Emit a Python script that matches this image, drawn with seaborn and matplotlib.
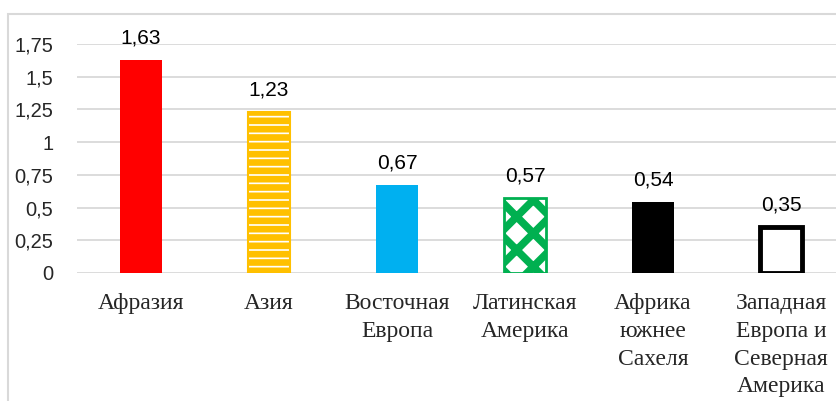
import matplotlib
matplotlib.use("Agg")
import matplotlib.pyplot as plt
import seaborn as sns
from matplotlib.patches import Rectangle

# data
regions = ["Афразия", "Азия", "Восточная\nЕвропа", "Латинская\nАмерика",
           "Африка\nюжнее\nСахеля", "Западная\nЕвропа и\nСеверная\nАмерика"]
values = [1.63, 1.23, 0.67, 0.57, 0.54, 0.35]
value_labels = ["1,63", "1,23", "0,67", "0,57", "0,54", "0,35"]
ytick_vals = [0, 0.25, 0.5, 0.75, 1, 1.25, 1.5, 1.75]
ytick_labels = ["0", "0,25", "0,5", "0,75", "1", "1,25", "1,5", "1,75"]
colors = ["#FF0000", "#FFC000", "#00B0F0", "#00B050", "#000000", "#000000"]

sns.set_style("white")
plt.rcParams["font.family"] = ["Liberation Sans", "DejaVu Sans"]
plt.rcParams["hatch.linewidth"] = 4.0

fig = plt.figure(figsize=(8.36, 4.01), dpi=100)
ax = fig.add_axes([77/836, (401-273)/401, 768/836, 229/401])

sns.barplot(x=regions, y=values, color="red", saturation=1,
            width=0.33, ax=ax, zorder=3)

bars = ax.containers[0]
for b, c in zip(bars, colors):
    b.set_facecolor(c)
    b.set_edgecolor(c)
    b.set_linewidth(0)
# Asia: yellow horizontal stripes
bars[1].set_facecolor("white")
bars[1].set_linewidth(1.5)
bars[1].set_hatch("--")
if hasattr(bars[1], "set_hatch_linewidth"):
    bars[1].set_hatch_linewidth(4.8)
# Latin America: green diamonds
bars[3].set_facecolor("white")
bars[3].set_linewidth(2)
bars[3].set_hatch("x")
if hasattr(bars[3], "set_hatch_linewidth"):
    bars[3].set_hatch_linewidth(5.5)
# Western Europe: white with thick black border
bars[5].set_facecolor("white")
bars[5].set_linewidth(3.5)

ax.bar_label(bars, labels=value_labels, padding=9, fontsize=15, color="#000000")

ax.set_ylim(0, 1.75)
ax.set_xlim(-0.5, 5.5)
ax.set_yticks(ytick_vals)
ax.set_yticklabels(ytick_labels, fontsize=14.5)
ax.yaxis.grid(True, color="#D9D9D9", linewidth=1.3, zorder=0)
ax.set_axisbelow(True)
ax.tick_params(axis="y", length=0, pad=17)
ax.tick_params(axis="x", length=0, pad=14.5)
ax.set_xticks(range(len(regions)))
ax.set_xticklabels(regions, fontsize=17, family=["Liberation Serif"],
                   linespacing=1.42)
for s in ax.spines.values():
    s.set_visible(False)

fig.patches.append(Rectangle((8/836, -0.1), 1.0, (401-14)/401 + 0.1,
                             transform=fig.transFigure, fill=False,
                             edgecolor="#D9D9D9", linewidth=1.5))

fig.savefig("out.png", dpi=100)
